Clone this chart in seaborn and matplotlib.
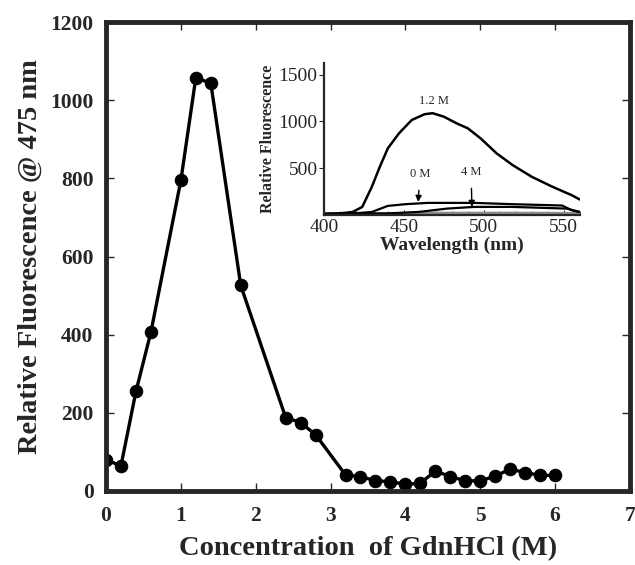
import matplotlib
matplotlib.use("Agg")
import matplotlib.pyplot as plt
import seaborn as sns
import pandas as pd

# main titration data (GdnHCl, M) vs fluorescence at 475 nm
conc = [0.0, 0.2, 0.4, 0.6, 1.0, 1.2, 1.4, 1.8, 2.4, 2.6, 2.8, 3.2, 3.4, 3.6,
        3.8, 4.0, 4.2, 4.4, 4.6, 4.8, 5.0, 5.2, 5.4, 5.6, 5.8, 6.0]
fluor = [79, 65, 255, 407, 795, 1058, 1043, 526, 188, 175, 144, 41, 37, 26,
         24, 17, 20, 51, 37, 26, 26, 38, 56, 47, 40, 40]

# inset spectra
wl_12 = [400, 410, 418, 424, 430, 435, 440, 447, 455, 463, 468, 475, 483, 490,
         498, 508, 518, 530, 543, 555, 560]
sp_12 = [15, 20, 35, 89, 303, 517, 713, 874, 1016, 1077, 1088, 1051, 980, 927,
         820, 660, 535, 410, 303, 214, 168]
wl_0 = [400, 420, 430, 440, 451, 465, 477, 494, 518, 549, 555, 560]
sp_0 = [15, 22, 35, 100, 118, 132, 132, 132, 118, 104, 53, 35]
wl_4 = [400, 440, 459, 477, 494, 518, 552, 560]
sp_4 = [15, 20, 35, 71, 89, 89, 71, 35]
wl_g = [400, 430, 470, 520, 560]
sp_g = [10, 18, 25, 25, 22]

sns.set_style("ticks")
plt.rcParams["font.family"] = ["Liberation Serif", "DejaVu Serif"]

fig = plt.figure(figsize=(6.35, 5.65), dpi=100)
ax = fig.add_axes([0.167, 0.131, 0.825, 0.830])

df = pd.DataFrame({"conc": conc, "fluor": fluor})
sns.lineplot(data=df, x="conc", y="fluor", ax=ax, color="black", lw=2.4,
             marker="o", markersize=9, markeredgecolor="black")
ax.set_xlim(0, 7)
ax.set_ylim(0, 1200)
ax.set_xticks(range(0, 8))
ax.set_yticks(range(0, 1201, 200))
ax.tick_params(direction="in", length=6, width=1, top=True, right=True,
               labelsize=15.5)
ax.tick_params(axis="x", pad=11)
ax.tick_params(axis="y", pad=9)
for lab in ax.get_xticklabels() + ax.get_yticklabels():
    lab.set_fontweight("bold")
for s in ax.spines.values():
    s.set_linewidth(3.5)
ax.set_xlabel("Concentration  of GdnHCl (M)", fontsize=20.5, fontweight="bold", labelpad=7)
ax.set_ylabel("Relative Fluorescence @ 475 nm", fontsize=20.5, fontweight="bold", labelpad=5)

# inset
ins = fig.add_axes([0.510, 0.619, 0.403, 0.269])
sns.lineplot(x=wl_g, y=sp_g, ax=ins, color="0.55", lw=1.8)
sns.lineplot(x=wl_4, y=sp_4, ax=ins, color="black", lw=1.6)
sns.lineplot(x=wl_0, y=sp_0, ax=ins, color="black", lw=1.6)
sns.lineplot(x=wl_12, y=sp_12, ax=ins, color="black", lw=1.8)
ins.set_xlim(400, 560)
ins.set_ylim(0, 1620)
ins.set_xticks([400, 450, 500, 550])
ins.set_xticks(range(400, 561, 10), minor=True)
ins.set_yticks([500, 1000, 1500])
ins.tick_params(axis="x", which="both", direction="in", labelsize=14, pad=3)
ins.tick_params(axis="x", which="minor", length=3)
ins.tick_params(axis="y", direction="out", labelsize=14, pad=1)
ins.spines["top"].set_visible(False)
ins.spines["right"].set_visible(False)
ins.spines["left"].set_linewidth(1.6)
ins.spines["bottom"].set_linewidth(1.6)
ins.patch.set_alpha(0)
ins.set_xlabel("Wavelength (nm)", fontsize=14, fontweight="bold", labelpad=0)
ins.set_ylabel("Relative Fluorescence", fontsize=11.5, fontweight="bold", labelpad=2)
ins.text(469, 1222, "1.2 M", fontsize=9, ha="center", va="center")
ins.annotate("0 M", xy=(459, 142), xytext=(460, 440), fontsize=9,
             ha="center", va="center",
             arrowprops=dict(arrowstyle="-|>", color="black", lw=1, shrinkA=5, shrinkB=0))
ins.annotate("4 M", xy=(492.6, 89), xytext=(492, 460), fontsize=9,
             ha="center", va="center",
             arrowprops=dict(arrowstyle="-|>", color="black", lw=1, shrinkA=5, shrinkB=0))

fig.savefig("out.png", dpi=100)
